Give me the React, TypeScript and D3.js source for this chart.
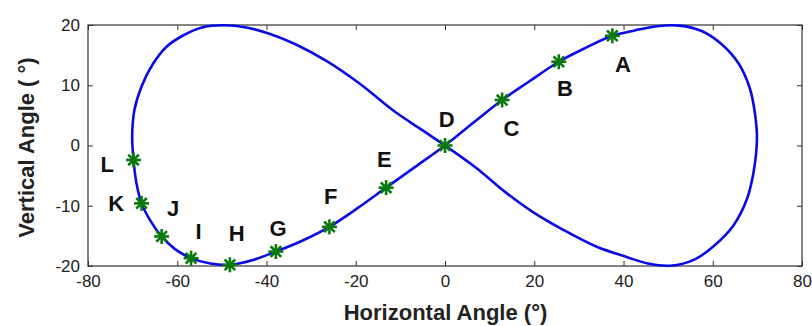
import React, { useEffect, useRef } from "react";
import * as d3 from "d3";

const W = 812;
const H = 326;
const margin = { top: 25, right: 10, bottom: 60, left: 88 };

// traced path of the figure-eight (degrees), in drawing order
const pathX = [69.9, 69.5, 68.3, 65.8, 62.0, 57.5, 52.5, 47.5, 42.5, 37.5, 31.5, 25.5, 19.0, 12.8, 6.4, 0,
  -6.6, -13.2, -19.6, -25.9, -32.0, -37.9, -43.0, -48.2, -52.6, -56.9, -60.5, -63.5, -66.0, -68.0, -69.2, -69.8,
  -70.1, -69.6, -68.0, -65.4, -62.4, -58.6, -54.5, -49.5, -44.5, -39.5, -33.5, -26.5, -19.0, -11.6, -5.0, 0,
  6.8, 13.8, 19.8, 26.5, 34.0, 40.7, 45.5, 50.5, 56.0, 60.5, 64.6, 67.6, 69.1];
const pathY = [1.0, 5.1, 9.5, 13.6, 16.8, 19.0, 19.9, 19.8, 19.1, 18.2, 16.2, 13.9, 10.7, 7.55, 3.8, 0,
  -3.5, -7.0, -10.4, -13.5, -15.8, -17.6, -19.0, -19.8, -19.6, -18.7, -17.2, -15.1, -12.5, -9.6, -6.0, -2.4,
  1.5, 5.9, 9.8, 13.6, 16.4, 18.3, 19.6, 19.95, 19.6, 18.6, 16.8, 14.0, 10.2, 5.8, 2.5, 0,
  -3.6, -7.9, -11.1, -14.0, -16.8, -18.5, -19.6, -19.95, -18.9, -16.5, -13.3, -9.0, -4.6];

// marked positions A..L
const markNames = ["A", "B", "C", "D", "E", "F", "G", "H", "I", "J", "K", "L"];
const markX = [37.5, 25.5, 12.8, 0, -13.2, -25.9, -37.9, -48.2, -56.9, -63.5, -68.0, -69.8];
const markY = [18.2, 13.9, 7.55, 0, -7.0, -13.5, -17.6, -19.8, -18.7, -15.1, -9.6, -2.4];
// where each letter sits (data units)
const labelX = [39.9, 26.9, 14.9, 0.4, -13.6, -25.6, -37.4, -46.7, -55.2, -60.9, -73.7, -75.7];
const labelY = [13.4, 9.5, 2.85, 4.35, -2.3, -8.5, -13.7, -14.6, -14.3, -10.4, -9.6, -3.2];

const xTicks = [-80, -60, -40, -20, 0, 20, 40, 60, 80];
const yTicks = [-20, -10, 0, 10, 20];

export default function App() {
  const svgRef = useRef<SVGSVGElement>(null);

  useEffect(() => {
    document.body.style.margin = "0";
    const svg = d3.select(svgRef.current);
    svg.selectAll("*").remove();

    const iw = W - margin.left - margin.right;
    const ih = H - margin.top - margin.bottom;

    const x = d3.scaleLinear().domain([-80, 80]).range([0, iw]);
    const y = d3.scaleLinear().domain([-20, 20]).range([ih, 0]);

    const g = svg.append("g").attr("transform", `translate(${margin.left},${margin.top})`);

    g.append("defs").append("clipPath").attr("id", "plotclip")
      .append("rect").attr("x", 0).attr("y", -1.5).attr("width", iw).attr("height", ih + 3);

    const font = "Arial, 'Liberation Sans', sans-serif";
    const fmt = (d: any) => String(d); // plain hyphen minus, like the original

    // axes, ticks pointing inward
    const styleAxis = (sel: any) => {
      sel.select(".domain").remove();
      sel.selectAll("line").attr("stroke", "#333").attr("stroke-width", 1);
      sel.selectAll("text").attr("font-family", font).attr("font-size", 17).attr("fill", "#222");
    };

    g.append("g").attr("transform", `translate(0,${ih})`)
      .call(d3.axisBottom(x).tickValues(xTicks).tickSizeInner(-5).tickSizeOuter(0).tickPadding(9).tickFormat(fmt))
      .call(styleAxis);
    g.append("g")
      .call(d3.axisTop(x).tickValues(xTicks).tickSizeInner(-5).tickSizeOuter(0).tickFormat(() => ""))
      .call(styleAxis);
    g.append("g")
      .call(d3.axisLeft(y).tickValues(yTicks).tickSizeInner(-5).tickSizeOuter(0).tickPadding(8).tickFormat(fmt))
      .call(styleAxis);
    g.append("g").attr("transform", `translate(${iw},0)`)
      .call(d3.axisRight(y).tickValues(yTicks).tickSizeInner(-5).tickSizeOuter(0).tickFormat(() => ""))
      .call(styleAxis);

    g.append("rect").attr("width", iw).attr("height", ih)
      .attr("fill", "none").attr("stroke", "#333").attr("stroke-width", 1.2);

    // the figure-eight
    const pts: [number, number][] = pathX.map((v, i) => [v, pathY[i]]);
    const line = d3.line<[number, number]>()
      .x(d => x(d[0])).y(d => y(d[1]))
      .curve(d3.curveCatmullRomClosed.alpha(0.5));
    g.append("path").attr("clip-path", "url(#plotclip)")
      .attr("d", line(pts))
      .attr("fill", "none").attr("stroke", "#0a0ae6").attr("stroke-width", 2.6)
      .attr("stroke-linejoin", "round");

    // asterisk markers
    const r = 7.5;
    const arms = [0, 45, 90, 135];
    const marks = g.selectAll("g.mark").data(markNames).enter().append("g")
      .attr("class", "mark")
      .attr("transform", (d, i) => `translate(${x(markX[i])},${y(markY[i])})`);
    arms.forEach(a => {
      const rad = (a * Math.PI) / 180;
      marks.append("line")
        .attr("x1", -r * Math.cos(rad)).attr("y1", -r * Math.sin(rad))
        .attr("x2", r * Math.cos(rad)).attr("y2", r * Math.sin(rad))
        .attr("stroke", "#0a7a0a").attr("stroke-width", 2.6);
    });

    // letters
    g.selectAll("text.lbl").data(markNames).enter().append("text")
      .attr("class", "lbl")
      .attr("x", (d, i) => x(labelX[i])).attr("y", (d, i) => y(labelY[i]))
      .attr("text-anchor", "middle").attr("dominant-baseline", "central")
      .attr("font-family", font).attr("font-weight", "bold").attr("font-size", 22)
      .attr("fill", "#111")
      .text(d => d);

    // axis titles
    svg.append("text")
      .attr("x", margin.left + iw / 2 + 0.5).attr("y", 320)
      .attr("text-anchor", "middle")
      .attr("font-family", font).attr("font-weight", "bold").attr("font-size", 22).attr("fill", "#222")
      .text("Horizontal Angle (°)");
    svg.append("text")
      .attr("transform", `translate(34,${margin.top + ih / 2 + 2}) rotate(-90)`)
      .attr("text-anchor", "middle")
      .attr("font-family", font).attr("font-weight", "bold").attr("font-size", 22).attr("fill", "#222")
      .text("Vertical Angle ( °)");
  }, []);

  return (
    <svg ref={svgRef} width={W} height={H} style={{ display: "block", background: "#fff" }} />
  );
}
